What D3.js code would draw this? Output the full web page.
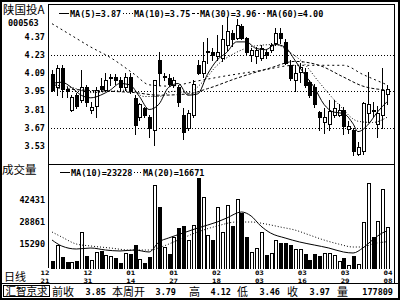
<!DOCTYPE html>
<html>
<head>
<meta charset="utf-8">
<script src="https://cdn.jsdelivr.net/npm/d3@7"></script>
<style>body{margin:0;background:#fff}</style>
</head>
<body>
<div id="chart"></div>
<script>
const width = 400, height = 300;

// daily candles, 70 trading days (12/21 .. 04/08)
const opens = [4.08,3.98,4.13,3.97,3.81,3.92,3.88,3.98,3.81,3.84, 3.99,3.96,4.05,4.06,4.04,3.98,4.06,3.90,3.75,3.82,
  3.75,3.65,4.19,4.06,4.05,4.00,3.98,3.77,3.67,3.77, 4.15,4.09,4.25,4.25,4.22,4.21,4.31,4.40,4.36,4.45,
  4.36,4.23,4.22,4.21,4.25,4.27,4.32,4.40,4.33,4.15, 4.04,4.10,4.10,4.02,3.98,3.79,3.71,3.70,3.77,3.77,
  3.81,3.66,3.65,3.47,3.49,3.78,3.81,3.70,3.77,3.93];
const highs = [4.11,4.15,4.15,3.98,3.92,3.94,4.11,4.00,3.87,3.98, 4.05,4.09,4.08,4.08,4.06,4.09,4.09,3.92,3.86,3.83,
  3.77,4.04,4.25,4.09,4.08,4.06,4.00,3.82,3.81,4.04, 4.19,4.33,4.36,4.28,4.38,4.46,4.52,4.42,4.51,4.47,
  4.37,4.28,4.29,4.31,4.27,4.32,4.44,4.44,4.35,4.19, 4.15,4.17,4.13,4.04,4.01,3.80,3.82,3.88,3.88,3.85,
  3.83,3.72,3.67,3.56,3.87,4.10,3.87,3.84,4.13,4.00];
const lows = [3.95,3.92,3.91,3.91,3.80,3.82,3.87,3.84,3.78,3.75, 3.95,3.95,4.00,4.01,3.96,3.96,3.94,3.62,3.73,3.75,
  3.60,3.54,4.00,4.04,4.00,3.98,3.84,3.58,3.65,3.75, 4.08,4.06,4.17,4.19,4.19,4.18,4.27,4.30,4.35,4.35,
  4.24,4.18,4.17,4.19,4.21,4.25,4.31,4.32,4.16,4.04, 3.95,4.02,3.98,3.91,3.83,3.65,3.63,3.65,3.75,3.76,
  3.62,3.63,3.46,3.46,3.47,3.71,3.76,3.60,3.67,3.85];
const closes = [3.96,4.13,3.97,3.95,3.91,3.84,3.98,3.87,3.83,3.96, 3.97,4.04,4.06,4.04,3.98,4.06,3.95,3.69,3.85,3.77,
  3.67,4.04,4.09,4.07,4.01,4.04,3.87,3.64,3.78,4.01, 4.09,4.18,4.26,4.23,4.25,4.35,4.41,4.35,4.46,4.36,
  4.25,4.27,4.27,4.28,4.23,4.31,4.40,4.36,4.17,4.05, 4.09,4.14,4.00,3.92,3.85,3.75,3.75,3.80,3.82,3.81,
  3.68,3.68,3.49,3.52,3.86,3.85,3.80,3.78,3.96,3.97];
const volumes = [4880,14650,7330,4270,4270,4880,22590,7940,5500,10380, 10990,8550,7940,6720,3660,9770,9160,14650,6100,3660,
  7330,51280,37850,13430,9160,19540,25030,26250,17700,26860, 55560,43960,20760,17700,37850,22590,39070,26250,42740,34190,
  19540,10380,12820,22590,8550,9770,17700,15870,15870,14650, 12210,12210,9160,5500,9160,7940,9770,9770,8550,4880,
  6720,2440,7940,3050,28690,52500,19540,29300,48840,25640];

// moving averages: [day index, value]
const ma5 = [[0,4.01],[2,4.02],[4,3.98],[6,3.92],[8,3.90],[10,3.92],[12,3.96],[14,4.01],[16,4.00],[18,3.91],
  [20,3.81],[22,3.85],[24,3.98],[26,4.01],[28,3.92],[30,3.93],[32,4.08],[34,4.19],[36,4.25],[38,4.33],
  [40,4.33],[42,4.28],[44,4.27],[46,4.31],[48,4.29],[50,4.19],[52,4.08],[54,3.98],[56,3.85],[58,3.79],
  [60,3.78],[62,3.70],[63,3.64],[65,3.69],[67,3.79],[69,3.87]];
const ma10 = [[0,4.00],[4,3.98],[8,3.94],[12,3.95],[16,3.96],[19,3.91],[22,3.91],[25,3.95],[28,3.94],[31,4.02],
  [34,4.15],[38,4.25],[42,4.30],[46,4.31],[49,4.25],[52,4.16],[55,4.02],[59,3.85],[63,3.72],[66,3.71],[69,3.75]];
const ma30 = [[0,3.98],[6,3.96],[12,3.95],[17,3.94],[22,3.92],[28,3.93],[32,3.97],[38,4.05],[45,4.13],[50,4.18],
  [55,4.15],[60,4.06],[64,3.99],[69,3.96]];
const ma60 = [[0,4.47],[4,4.38],[8,4.29],[12,4.21],[17,4.08],[20,4.00],[24,3.99],[30,4.03],[36,4.07],[43,4.11],
  [50,4.15],[60,4.15],[64,4.08],[69,4.00]];
const volMa10 = [[0,17700],[2,14040],[5,12210],[8,12820],[11,11600],[14,10990],[17,11600],[20,10380],[22,16480],[24,18930],
  [27,21980],[30,25030],[34,28690],[36,31140],[39,34800],[41,32360],[43,26250],[45,21980],[48,18930],[51,16480],
  [54,14650],[57,12820],[60,10380],[62,9770],[64,12820],[66,17700],[68,21980],[69,23228]];
const volMa20 = [[0,22590],[2,19540],[5,15260],[8,14040],[12,12820],[16,11600],[20,11600],[23,14040],[26,17700],[30,22590],
  [34,26250],[38,28690],[41,28690],[44,27470],[47,25640],[50,23810],[53,20760],[56,17700],[59,15260],[62,13430],
  [64,13430],[66,15260],[69,16671]];

const priceTicks = [4.37, 4.23, 4.09, 3.95, 3.81, 3.67, 3.53];
const gridPrices = [4.23, 3.95, 3.67];
const volTicks = [42431, 28861, 15290];
const dateMonths = ["12","12","01","01","02","03","03","03","04"];
const dateDays = ["21","31","14","27","18","03","16","29","08"];
const infoItems = [["前收", "3.85"], ["本周开", "3.79"], ["高", "4.12"], ["低", "3.46"], ["收", "3.97"], ["量", "177809"]];

const mono = "'DejaVu Sans Mono', monospace";
const cjk = "'Noto Sans CJK SC', sans-serif";

const svg = d3.select("#chart").append("svg")
  .attr("width", width).attr("height", height)
  .style("display", "block");

svg.append("rect").attr("width", width).attr("height", height).attr("fill", "#fff");

const pLeft = 48, pRight = 394, pTop = 4, pMid = 164, pBottom = 268;

const x = d3.scaleBand().domain(d3.range(opens.length)).range([49.6, 389.5]);
const cx = i => Math.round(x(i) + x.bandwidth() / 2);
const y = d3.scaleLinear().domain([3.53, 4.37]).range([145.9, 36.7]);
const yv = d3.scaleLinear().domain([0, 42431]).range([269, 199.5]);

const defs = svg.append("defs");
defs.append("clipPath").attr("id", "clipP").append("rect")
  .attr("x", pLeft + 1).attr("y", pTop + 1).attr("width", pRight - pLeft - 1).attr("height", pMid - pTop - 1);
defs.append("clipPath").attr("id", "clipV").append("rect")
  .attr("x", pLeft + 1).attr("y", pMid + 1).attr("width", pRight - pLeft - 1).attr("height", pBottom - pMid);

// grid lines
svg.selectAll(".grid").data(gridPrices).join("line")
  .attr("x1", pLeft).attr("x2", pRight)
  .attr("y1", d => Math.round(y(d)) + 0.5).attr("y2", d => Math.round(y(d)) + 0.5)
  .attr("stroke", "#000").attr("stroke-dasharray", "1,2");

// candles
const days = d3.range(opens.length);
const gp = svg.append("g").attr("clip-path", "url(#clipP)");
gp.selectAll(".wick").data(days).join("line")
  .attr("x1", i => cx(i) + 0.5).attr("x2", i => cx(i) + 0.5)
  .attr("y1", i => Math.round(y(highs[i]))).attr("y2", i => Math.round(y(lows[i])) + 1)
  .attr("stroke", "#000");

function body(g, data, top, bot, up) {
  g.selectAll(null).data(data).join("rect")
    .attr("x", i => up(i) ? cx(i) - 0.5 : cx(i) - 1)
    .attr("y", i => up(i) ? Math.round(top(i)) + 0.5 : Math.round(top(i)))
    .attr("width", i => up(i) ? 3 : 4)
    .attr("height", i => Math.max(up(i) ? 1 : 2, Math.round(bot(i)) - Math.round(top(i)) + (up(i) ? 0 : 1)))
    .attr("fill", i => up(i) ? "#fff" : "#000")
    .attr("stroke", i => up(i) ? "#000" : "none");
}
const isUp = i => closes[i] > opens[i];
body(gp, days, i => y(Math.max(opens[i], closes[i])), i => y(Math.min(opens[i], closes[i])), isUp);

// price moving averages
const line = d3.line().x(d => x(d[0]) + x.bandwidth() / 2).y(d => y(d[1])).curve(d3.curveMonotoneX);
[[ma60, "2,3"], [ma30, "3,2"], [ma10, "1,2"], [ma5, null]].forEach(([arr, dash]) => {
  gp.append("path").datum(arr).attr("d", line)
    .attr("fill", "none").attr("stroke", "#000").attr("stroke-width", 1)
    .attr("stroke-dasharray", dash);
});

// volume bars
const gv = svg.append("g").attr("clip-path", "url(#clipV)");
body(gv, days, i => yv(volumes[i]), i => yv(0), isUp);

const vline = d3.line().x(d => x(d[0]) + x.bandwidth() / 2).y(d => yv(d[1])).curve(d3.curveMonotoneX);
[[volMa20, "1,2"], [volMa10, null]].forEach(([arr, dash]) => {
  gv.append("path").datum(arr).attr("d", vline)
    .attr("fill", "none").attr("stroke", "#000").attr("stroke-dasharray", dash);
});

// frames
const frame = svg.append("g").attr("stroke", "#000").attr("fill", "none");
frame.append("rect").attr("x", 1).attr("y", 1).attr("width", 398).attr("height", 298).attr("stroke-width", 2);
frame.append("line").attr("x1", pLeft + 0.5).attr("x2", pLeft + 0.5).attr("y1", pTop).attr("y2", pBottom);
frame.append("line").attr("x1", pRight + 0.5).attr("x2", pRight + 0.5).attr("y1", pTop).attr("y2", 283);
frame.append("line").attr("x1", pLeft).attr("x2", pRight).attr("y1", pTop + 0.5).attr("y2", pTop + 0.5);
frame.append("line").attr("x1", pLeft).attr("x2", pRight).attr("y1", pMid + 0.5).attr("y2", pMid + 0.5);
frame.append("line").attr("x1", 0).attr("x2", width).attr("y1", 283.5).attr("y2", 283.5);
frame.append("rect").attr("x", 3.5).attr("y", 285.5).attr("width", 46).attr("height", 11);

// left labels
svg.append("text").attr("x", 3).attr("y", 14).attr("font-family", cjk).attr("font-size", 11.5).text("陕国投A");
svg.append("text").attr("x", 8).attr("y", 26).attr("font-family", mono).attr("font-weight", "bold")
  .attr("font-size", 8.5).text("000563");
svg.selectAll(".ptick").data(priceTicks).join("text")
  .attr("x", 45).attr("y", d => y(d) + 3).attr("text-anchor", "end")
  .attr("font-family", mono).attr("font-weight", "bold").attr("font-size", 8.5)
  .text(d => d.toFixed(2));
svg.append("text").attr("x", 2).attr("y", 174).attr("font-family", cjk).attr("font-size", 11.5).text("成交量");
svg.selectAll(".vtick").data(volTicks).join("text")
  .attr("x", 45).attr("y", d => yv(d) + 3).attr("text-anchor", "end")
  .attr("font-family", mono).attr("font-weight", "bold").attr("font-size", 8.5)
  .text(d => d);
svg.append("text").attr("x", 4).attr("y", 280.5).attr("font-family", cjk).attr("font-size", 11).text("日线");

// legends
function legend(items, ly) {
  items.forEach(([sx0, sx1, dash, tx, label]) => {
    svg.append("line").attr("x1", sx0).attr("x2", sx1).attr("y1", ly - 3.5).attr("y2", ly - 3.5)
      .attr("stroke", "#000").attr("stroke-dasharray", dash);
    svg.append("text").attr("x", tx).attr("y", ly)
      .attr("font-family", mono).attr("font-weight", "bold").attr("font-size", 8.5).text(label);
  });
}
legend([[59, 69, null, 70, "MA(5)=3.87"], [123, 133, "1,2", 134, "MA(10)=3.75"],
        [192, 199, "3,2", 200, "MA(30)=3.96"], [258, 266, "2,3", 267, "MA(60)=4.00"]], 17);
legend([[60, 70, null, 71, "MA(10)=23228"], [134, 142, "1,2", 143, "MA(20)=16671"]], 176);

// date axis
const xd = d3.scalePoint().domain(d3.range(dateMonths.length)).range([45, 388]);
const gd = svg.append("g").attr("font-family", mono).attr("font-weight", "bold")
  .attr("font-size", 6).attr("text-anchor", "middle");
gd.selectAll(".m").data(d3.range(dateMonths.length)).join("text")
  .attr("x", d => xd(d)).attr("y", 275).attr("textLength", 9).attr("lengthAdjust", "spacingAndGlyphs")
  .text(d => dateMonths[d]);
gd.selectAll(".d").data(d3.range(dateDays.length)).join("text")
  .attr("x", d => xd(d)).attr("y", 282.5).attr("textLength", 9).attr("lengthAdjust", "spacingAndGlyphs")
  .text(d => dateDays[d]);

// info bar
svg.append("text").attr("x", 5.5).attr("y", 295).attr("font-family", cjk).attr("font-size", 10.5).text("汇智京求");
const infoX = [[52, 106], [112, 176], [189, 231], [237, 280], [287, 330], [337, 393]];
infoItems.forEach(([k, v], j) => {
  svg.append("text").attr("x", infoX[j][0]).attr("y", 296).attr("font-family", cjk).attr("font-size", 11).text(k);
  svg.append("text").attr("x", infoX[j][1]).attr("y", 295).attr("text-anchor", "end")
    .attr("font-family", mono).attr("font-weight", "bold").attr("font-size", 8.5).text(v);
});
</script>
</body>
</html>
